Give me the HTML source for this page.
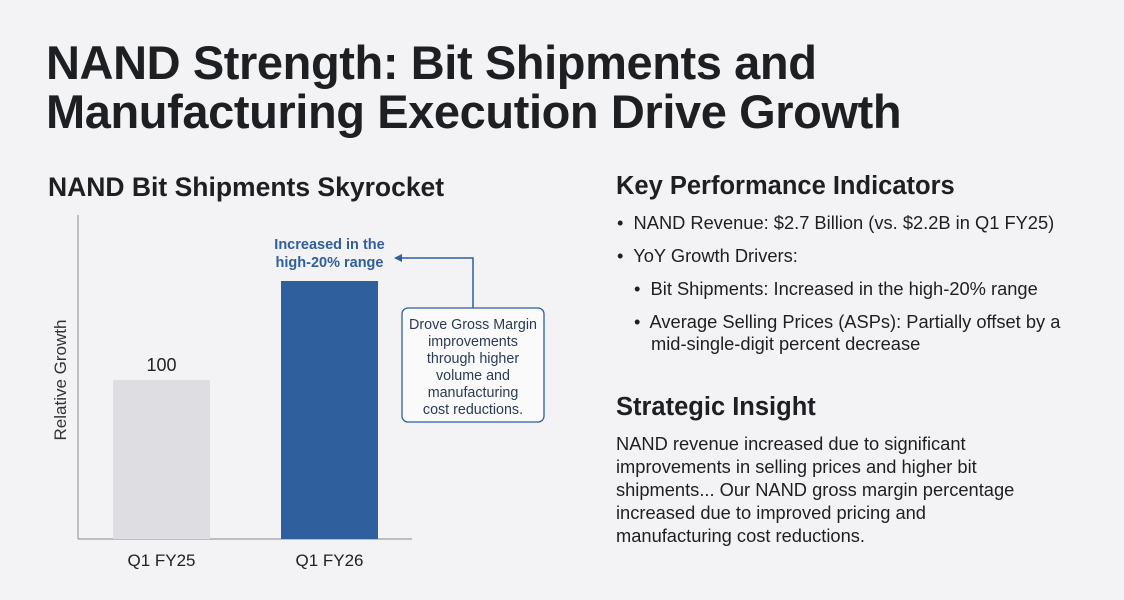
<!DOCTYPE html>
<html><head><meta charset="utf-8"><style>
body{margin:0;width:1124px;height:600px;background:#f3f3f5;font-family:"Liberation Sans",sans-serif;color:#1e1f22;position:relative;overflow:hidden}
.a{position:absolute;white-space:nowrap}
h1{position:absolute;left:46px;top:38px;margin:0;font-size:47px;line-height:49px;font-weight:bold;letter-spacing:-0.4px}
.h2{font-size:25.5px;font-weight:bold}
.b{font-size:18.3px;line-height:22px}
</style></head><body>
<h1>NAND Strength: Bit Shipments and<br>Manufacturing Execution Drive Growth</h1>
<div class="a h2" style="left:48px;top:172px;font-size:26.5px">NAND Bit Shipments Skyrocket</div>
<svg class="a" style="left:0;top:0" width="600" height="600" id="chart"></svg>
<div class="a h2" style="left:616px;top:172px">Key Performance Indicators</div>
<div class="a b" style="left:617px;top:212px">•&nbsp; NAND Revenue: $2.7 Billion (vs. $2.2B in Q1 FY25)</div>
<div class="a b" style="left:617px;top:245px">•&nbsp; YoY Growth Drivers:</div>
<div class="a b" style="left:634px;top:278px">•&nbsp; Bit Shipments: Increased in the high-20% range</div>
<div class="a b" style="left:634px;top:311px">•&nbsp; Average Selling Prices (ASPs): Partially offset by a<br><span style="padding-left:17px">mid-single-digit percent decrease</span></div>
<div class="a h2" style="left:616px;top:393px">Strategic Insight</div>
<div class="a b" style="left:616px;top:432px;line-height:23px">NAND revenue increased due to significant<br>improvements in selling prices and higher bit<br>shipments... Our NAND gross margin percentage<br>increased due to improved pricing and<br>manufacturing cost reductions.</div>
<script>
const categories=["Q1 FY25","Q1 FY26"];
const values=[100,128];
const valueLabels=["100",""];
const colors=["#dedde2","#2f5f9c"];
const yMin=55,yMax=128;
const svg=document.getElementById('chart');
const NS="http://www.w3.org/2000/svg";
const x0=78,x1=412,base=539,plotTop=281;
const y=v=>base-(v-yMin)/(yMax-yMin)*(base-plotTop);
const bx=i=>113+i*168;
const bw=97;
function mk(t,a){const e=document.createElementNS(NS,t);for(const k in a)e.setAttribute(k,a[k]);svg.appendChild(e);return e;}
let e=mk('line',{x1:x0,y1:215,x2:x0,y2:base,stroke:'#8a8a8e','stroke-width':1});

e=mk('line',{x1:x0,y1:base,x2:x1,y2:base,stroke:'#8a8a8e','stroke-width':1});

e=mk('text',{x:66,y:380,transform:'rotate(-90 66 380)','text-anchor':'middle','font-size':17,fill:'#333'});e.textContent='Relative Growth';

categories.forEach((c,i)=>{
 const r=mk('rect',{x:bx(i),y:y(values[i]),width:bw,height:base-y(values[i]),fill:colors[i]});
 
 
 const t=mk('text',{x:bx(i)+bw/2,y:566,'text-anchor':'middle','font-size':17,fill:'#222'});t.textContent=c;
 
 
 if(valueLabels[i]){const v=mk('text',{x:bx(i)+bw/2,y:y(values[i])-9,'text-anchor':'middle','font-size':18,fill:'#222'});v.textContent=valueLabels[i];
 
 }
});
const cx=bx(1)+bw/2, ty=y(values[1]);
e=mk('text',{x:cx,y:ty-32,'text-anchor':'middle','font-size':14.5,'font-weight':'bold',fill:'#2f5f9c'});e.textContent='Increased in the';

e=mk('text',{x:cx,y:ty-14,'text-anchor':'middle','font-size':14.5,'font-weight':'bold',fill:'#2f5f9c'});e.textContent='high-20% range';

e=mk('path',{d:'M473 308 V258 H400',fill:'none',stroke:'#2f5f9c','stroke-width':1.5});

e=mk('path',{d:'M394 258 L402 254 L402 262 Z',fill:'#2f5f9c'});

e=mk('rect',{x:402,y:308,width:142,height:114,rx:6,fill:'#fafafb',stroke:'#2f5f9c','stroke-width':1.3});

["Drove Gross Margin","improvements","through higher","volume and","manufacturing","cost reductions."].forEach((s,i)=>{
 const t=mk('text',{x:473,y:329+i*17,'text-anchor':'middle','font-size':14.3,fill:'#2a3b55'});t.textContent=s;
 
 
});
</script>
</body></html>
